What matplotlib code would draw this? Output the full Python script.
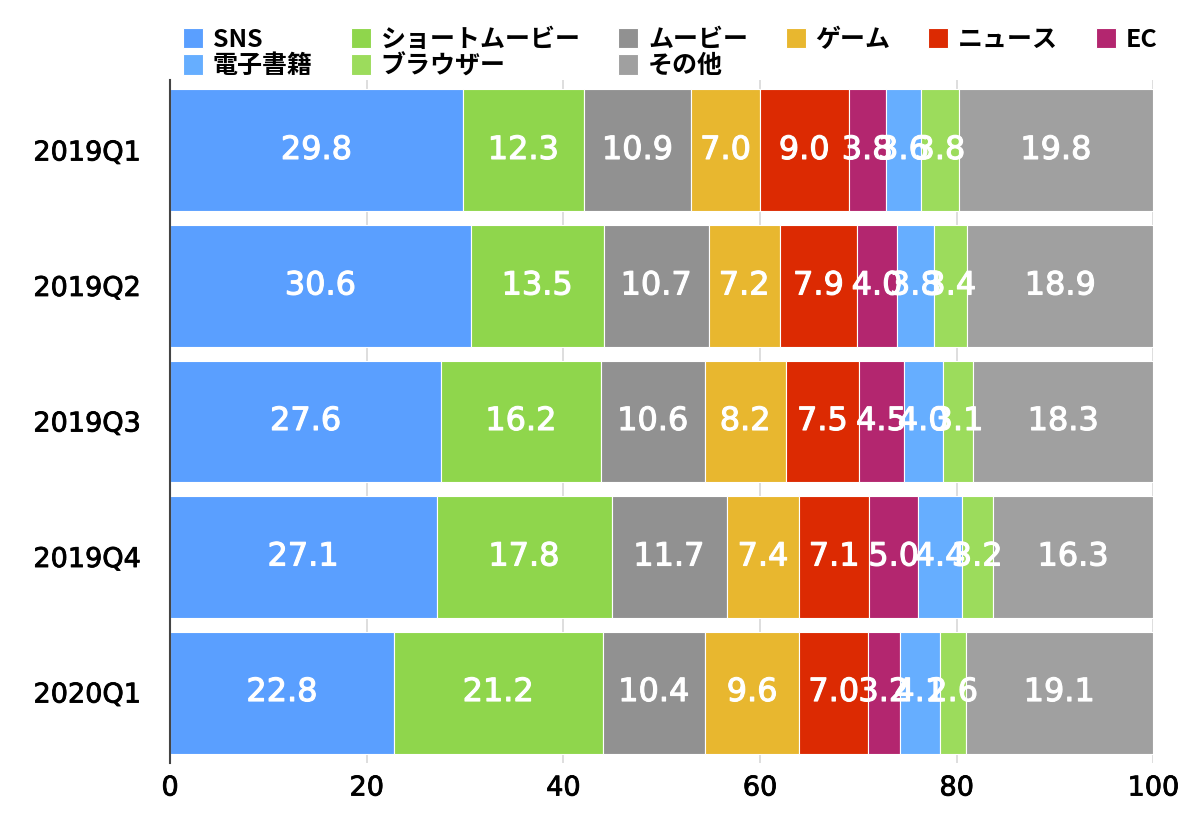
import matplotlib
matplotlib.use("Agg")
import matplotlib.pyplot as plt
import matplotlib.patheffects as pe
import numpy as np

plt.rcParams['font.family'] = ['Noto Sans CJK JP', 'DejaVu Sans']

quarters = ["2019Q1", "2019Q2", "2019Q3", "2019Q4", "2020Q1"]
sns_v      = [29.8, 30.6, 27.6, 27.1, 22.8]
short_v    = [12.3, 13.5, 16.2, 17.8, 21.2]
movie_v    = [10.9, 10.7, 10.6, 11.7, 10.4]
game_v     = [7.0, 7.2, 8.2, 7.4, 9.6]
news_v     = [9.0, 7.9, 7.5, 7.1, 7.0]
ec_v       = [3.8, 4.0, 4.5, 5.0, 3.2]
ebook_v    = [3.6, 3.8, 4.0, 4.4, 4.1]
browser_v  = [3.8, 3.4, 3.1, 3.2, 2.6]
other_v    = [19.8, 18.9, 18.3, 16.3, 19.1]

stack_names = ["SNS", "ショートムービー", "ムービー", "ゲーム", "ニュース", "EC", "電子書籍", "ブラウザー", "その他"]
stack_vals = [sns_v, short_v, movie_v, game_v, news_v, ec_v, ebook_v, browser_v, other_v]
colors = {"SNS": "#5a9fff", "ショートムービー": "#8fd64c", "ムービー": "#919191", "ゲーム": "#e8b72f",
          "ニュース": "#dc2a02", "EC": "#b3266f", "電子書籍": "#66aeff", "ブラウザー": "#9cdc5c", "その他": "#a0a0a0"}
legend_order = ["SNS", "電子書籍", "ショートムービー", "ブラウザー", "ムービー", "その他", "ゲーム", "ニュース", "EC"]

fig = plt.figure(figsize=(12, 8.13), dpi=100)
ax = fig.add_axes([0.1417, 0.0615, 0.8194, 0.8401])

white_fx = [pe.withStroke(linewidth=0.8, foreground="white")]
black_fx = [pe.withStroke(linewidth=0.6, foreground="black")]

y = np.arange(len(quarters))
left = np.zeros(len(quarters))
handles = {}
for name, vals in zip(stack_names, stack_vals):
    vals = np.array(vals)
    bars = ax.barh(y, vals, left=left, height=0.9, color=colors[name], edgecolor="white",
                   linewidth=0.8, zorder=2, label=name)
    handles[name] = bars
    for yi, (l, v) in enumerate(zip(left, vals)):
        ax.text(l + v / 2, yi, f"{v:.1f}", ha="center", va="center", color="white",
                fontsize=23, family="DejaVu Sans", zorder=3, path_effects=white_fx)
    left = left + vals

ax.set_xlim(0, 100)
ax.set_ylim(4.52, -0.52)
ax.set_xticks([0, 20, 40, 60, 80, 100])
ax.set_yticks(y)
ax.set_yticklabels(quarters)
ax.tick_params(axis="both", length=0, labelsize=19.5)
ax.tick_params(axis="x", pad=9)
ax.tick_params(axis="y", pad=21)
for lab in ax.get_xticklabels() + ax.get_yticklabels():
    lab.set_family("DejaVu Sans")
    lab.set_path_effects(black_fx)
ax.grid(axis="x", color="#d8d8d8", linewidth=1.2, zorder=0)
ax.set_axisbelow(True)
for s in ["top", "right", "bottom"]:
    ax.spines[s].set_visible(False)
ax.spines["left"].set_color("#444444")
ax.spines["left"].set_linewidth(1.5)

leg = fig.legend([handles[n] for n in legend_order], legend_order, ncol=6, loc="upper left",
                 bbox_to_anchor=(0.1525, 0.966), frameon=False,
                 handlelength=0.8, handleheight=0.9, handletextpad=0.4, columnspacing=1.5,
                 labelspacing=0.1, borderaxespad=0, borderpad=0,
                 prop={"size": 18, "weight": "bold", "family": ["Noto Sans CJK JP", "DejaVu Sans"]})

fig.savefig("out.png", dpi=100)
